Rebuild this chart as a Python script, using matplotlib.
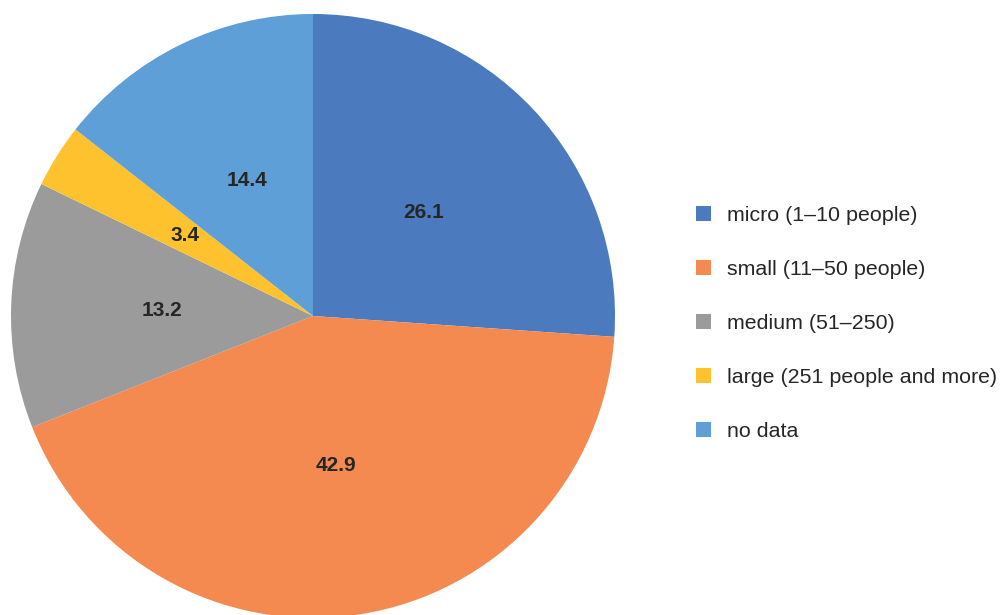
import matplotlib
matplotlib.use("Agg")
import matplotlib.pyplot as plt

labels = ["micro (1–10 people)", "small (11–50 people)", "medium (51–250)",
          "large (251 people and more)", "no data"]
values = [26.1, 42.9, 13.2, 3.4, 14.4]
colors = ["#4B7ABF", "#F48A4F", "#9B9B9B", "#FEC22E", "#5D9FD6"]

plt.rcParams["font.family"] = ["Liberation Sans", "DejaVu Sans"]

W, H = 1003, 615
fig = plt.figure(figsize=(W / 100, H / 100), dpi=100)
cx, cy, r = 313, 316, 302
ax = fig.add_axes([(cx - r) / W, (H - cy - r) / H, 2 * r / W, 2 * r / H])

wedges, texts = ax.pie(values, colors=colors, startangle=90, counterclock=False,
                       radius=1, labels=[f"{v:.1f}" for v in values],
                       labeldistance=0.5,
                       textprops=dict(fontsize=15, fontweight="bold", color="#262626",
                                      ha="center", va="center"))
ax.set_xlim(-1, 1)
ax.set_ylim(-1, 1)
ax.set_aspect("equal")
ax.axis("off")

fig.legend(wedges, labels, loc="center left", bbox_to_anchor=(696 / W, 1 - 323.5 / H),
           frameon=False, fontsize=15.4, labelcolor="#262626",
           handlelength=0.7, handleheight=0.7, handletextpad=0.75,
           labelspacing=1.63, borderaxespad=0, borderpad=0)

fig.savefig("out.png", dpi=100)
